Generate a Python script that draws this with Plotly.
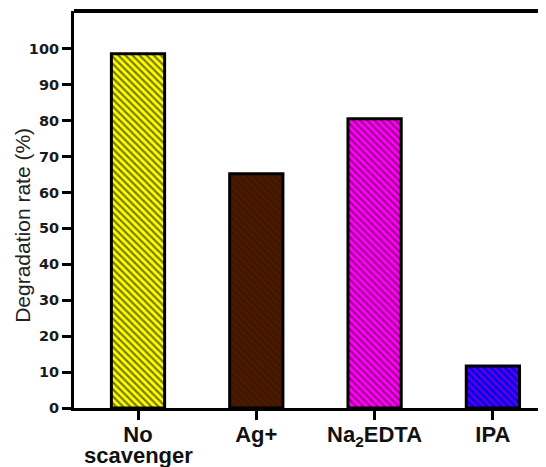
import plotly.graph_objects as go

categories = ["No", "Ag+", "Na<sub>2</sub>EDTA", "IPA"]
second_line = ["scavenger", "", "", ""]
values = [98.6, 65.2, 80.5, 11.7]
bg_colors = ["#ffff00", "#3a2400", "#ff00ff", "#0000ff"]
fg_colors = ["#7a7a00", "#560a00", "#a0008a", "#6a00c8"]
y_ticks = [0, 10, 20, 30, 40, 50, 60, 70, 80, 90, 100]
y_title = "Degradation rate (%)"

x_pos = list(range(len(categories)))

fig = go.Figure()
for xp, v, bg, fg in zip(x_pos, values, bg_colors, fg_colors):
    fig.add_trace(go.Bar(
        x=[xp], y=[v], width=0.45,
        marker=dict(
            color=bg,
            line=dict(color="black", width=3),
            pattern=dict(shape="\\", fgcolor=fg, fgopacity=1,
                         size=5, solidity=0.45, fillmode="overlay"),
        ),
        showlegend=False,
    ))

arial = "Liberation Sans, Arial, sans-serif"
# page body has an 8px default margin, so the figure is sized/offset to compensate
fig.update_layout(
    width=538, height=459,
    margin=dict(l=66, r=0, t=3, b=59),
    paper_bgcolor="white", plot_bgcolor="white",
    font=dict(family=arial, color="black"),
    barmode="overlay",
    xaxis=dict(
        range=[-0.541, 3.449], automargin=False,
        tickmode="array", tickvals=x_pos, ticktext=categories,
        tickfont=dict(family=arial, size=22, weight="bold", color="#111"),
        ticklabelstandoff=-4,
        showline=True, linecolor="black", linewidth=3,
        ticks="outside", ticklen=9, tickwidth=3, tickcolor="black",
        showgrid=False, zeroline=False,
    ),
    yaxis=dict(
        range=[0, 110.5], automargin=False,
        tickmode="array", tickvals=y_ticks,
        tickfont=dict(family="DejaVu Sans, sans-serif", size=14.5, weight="bold", color="#1a1a1a"),
        showline=True, linecolor="black", linewidth=3,
        ticks="outside", ticklen=9, tickwidth=3, tickcolor="black",
        showgrid=False, zeroline=False,
    ),
    shapes=[dict(type="line", xref="paper", yref="paper", x0=0, x1=1, y0=1, y1=1,
                 line=dict(color="black", width=4))],
)

fig.add_annotation(x=0, xref="paper", xanchor="center", xshift=-51,
                   y=50.7, yref="y", yanchor="middle", textangle=-90,
                   text=y_title, showarrow=False,
                   font=dict(family=arial, size=21, color="#222"))

for xp, txt in zip(x_pos, second_line):
    if txt:
        fig.add_annotation(x=xp, xref="x", y=0, yref="paper", text=txt, showarrow=False,
                           yanchor="middle", yshift=-47,
                           font=dict(family=arial, size=22, weight="bold", color="#111"))

fig.write_html("out.html")
